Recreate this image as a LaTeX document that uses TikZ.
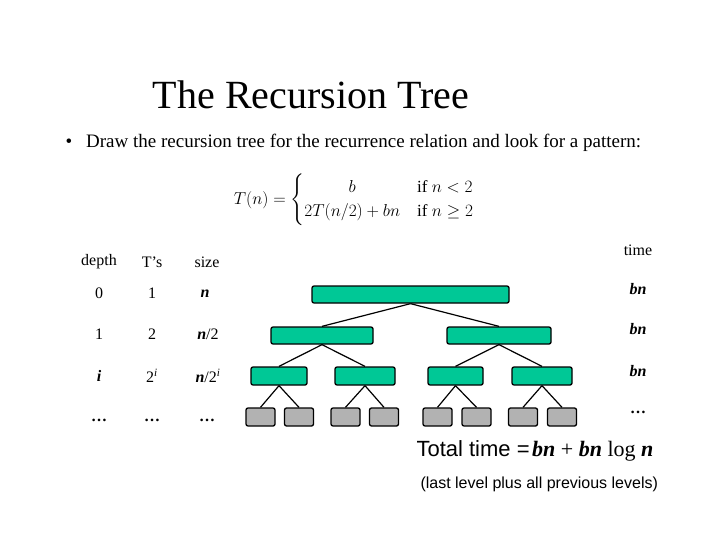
\documentclass[tikz,border=0pt]{standalone}
\usepackage{amsmath}
\usepackage{fontspec}
\setmainfont{Liberation Serif}
\newfontfamily\arialf{Liberation Sans}
\begin{document}
\begin{tikzpicture}[x=1pt,y=-1pt,
  inner/.style={draw=black,line width=1.3pt,fill=teal!50!green!70!cyan!60,rounded corners=2pt},
  leaf/.style={draw=black,line width=1.3pt,fill=black!30,rounded corners=2pt},
  edge/.style={line width=1.2pt},
  lbl/.style={font=\fontsize{16}{18}\selectfont}]
\definecolor{tealg}{RGB}{0,200,150}
\tikzset{inner/.append style={fill=tealg}}
\useasboundingbox (0,0) rectangle (720,540);
\node (title) at (311,95) {\fontsize{40}{44}\selectfont The Recursion Tree};
\node[anchor=west] (bullet) at (62,143) {\fontsize{19}{22}\selectfont\textbullet\hspace{14pt}Draw the recursion tree for the recurrence relation and look for a pattern:};
\node (rec) at (354,200) {\fontsize{17}{20}\selectfont$T(n)=\begin{cases}\hfil b & \text{if } n<2\\ 2T(n/2)+bn & \text{if } n\ge 2\end{cases}$};
% tree
\node[inner,minimum width=197pt,minimum height=17pt] (r) at (410.5,294.5) {};
\node[inner,minimum width=102pt,minimum height=17pt] (a) at (322,335.5) {};
\node[inner,minimum width=104pt,minimum height=17pt] (b) at (499,335.5) {};
\foreach \n/\x/\w in {c1/279/56,c2/365/60,c3/455.5/55,c4/542/60}
  \node[inner,minimum width=\w pt,minimum height=18pt] (\n) at (\x,376) {};
\foreach \n/\x in {l1/260.5,l2/299,l3/345.5,l4/384,l5/437.5,l6/476.5,l7/523,l8/562}
  \node[leaf,minimum width=29pt,minimum height=18pt] (\n) at (\x,417) {};
\draw[edge] (r.south) -- (a.north); \draw[edge] (r.south) -- (b.north);
\draw[edge] (a.south) -- (c1.north); \draw[edge] (a.south) -- (c2.north);
\draw[edge] (b.south) -- (c3.north); \draw[edge] (b.south) -- (c4.north);
\draw[edge] (c1.south) -- (l1.north); \draw[edge] (c1.south) -- (l2.north);
\draw[edge] (c2.south) -- (l3.north); \draw[edge] (c2.south) -- (l4.north);
\draw[edge] (c3.south) -- (l5.north); \draw[edge] (c3.south) -- (l6.north);
\draw[edge] (c4.south) -- (l7.north); \draw[edge] (c4.south) -- (l8.north);
% table
\node[lbl] (hd) at (99,262) {depth};
\node[lbl] (ht) at (152,262) {T’s};
\node[lbl] (hs) at (207,262) {size};
\node[lbl] (htm) at (638,250) {time};
\node[lbl] (d0) at (99,293) {0};
\node[lbl] (t0) at (152,293) {1};
\node[lbl] (s0) at (205,294) {\textbf{\textit{n}}};
\node[lbl] (m0) at (638,289) {\textbf{\textit{bn}}};
\node[lbl] (d1) at (99,334) {1};
\node[lbl] (t1) at (152,334) {2};
\node[lbl] (s1) at (208,334) {\textbf{\textit{n}}/2};
\node[lbl] (m1) at (638,329) {\textbf{\textit{bn}}};
\node[lbl] (d2) at (99,376) {\textbf{\textit{i}}};
\node[lbl] (t2) at (152,376) {2\textsuperscript{\textit{i}}};
\node[lbl] (s2) at (208,376) {\textbf{\textit{n}}/2\textsuperscript{\textit{i}}};
\node[lbl] (m2) at (638,371) {\textbf{\textit{bn}}};
\node[lbl] (d3) at (99,420) {\textbf{…}};
\node[lbl] (t3) at (152,420) {\textbf{…}};
\node[lbl] (s3) at (207,420) {\textbf{…}};
\node[lbl] (m3) at (638,412) {\textbf{…}};
\node[anchor=west] (tot) at (413,451) {{\arialf\fontsize{22}{24}\selectfont Total time =} {\fontsize{22}{24}\selectfont\textbf{\textit{bn}} + \textbf{\textit{bn}} log \textbf{\textit{n}}}};
\node[anchor=west] (note) at (417,484) {\arialf\fontsize{16}{18}\selectfont (last level plus all previous levels)};
\end{tikzpicture}
\end{document}
